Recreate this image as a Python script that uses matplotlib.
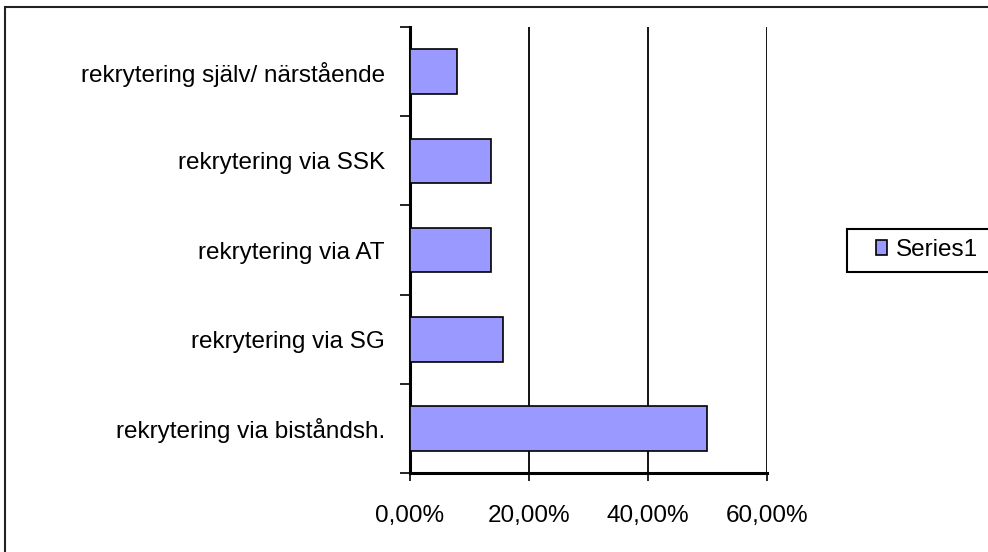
import matplotlib
matplotlib.use("Agg")
import matplotlib.pyplot as plt
from matplotlib.patches import Rectangle, Patch
from matplotlib.ticker import FixedLocator, FuncFormatter

plt.rcParams['font.family'] = ['Liberation Sans', 'DejaVu Sans']

categories = ["rekrytering via biståndsh.", "rekrytering via SG", "rekrytering via AT",
              "rekrytering via SSK", "rekrytering själv/ närstående"]
values = [49.9, 15.6, 13.6, 13.6, 7.85]
series_name = "Series1"
xticks = [0, 20, 40, 60]

W, H = 988, 552
FS = 17.5
fig = plt.figure(figsize=(W / 100, H / 100), dpi=100)

# outer chart frame (extends beyond right/bottom edges)
fig.patches.append(Rectangle((5 / W, -0.1), 1.2, (H - 7) / H + 0.1, transform=fig.transFigure,
                             fill=False, edgecolor='#222222', linewidth=1.5))

ax = fig.add_axes([410 / W, (H - 473) / H, 357 / W, 446 / H])
ypos = list(range(len(categories)))
ax.barh(ypos, values, height=0.5, color='#9999FF', edgecolor='black', linewidth=1.2, zorder=3)
ax.set_xlim(0, 60)
ax.set_ylim(-0.5, len(categories) - 0.5)

ax.set_xticks(xticks)
ax.xaxis.set_major_formatter(FuncFormatter(lambda v, p: f"{v:.2f}%".replace('.', ',')))
ax.grid(axis='x', color='black', linewidth=1.3, zorder=1)
ax.set_yticks(ypos)
ax.set_yticklabels(categories)
ax.tick_params(axis='y', which='major', length=0, pad=18, labelsize=FS)
ax.yaxis.set_minor_locator(FixedLocator([i - 0.5 for i in range(len(categories) + 1)]))
ax.tick_params(axis='y', which='minor', length=7, width=1.2, direction='out')
ax.tick_params(axis='x', which='major', length=6, width=1.2, direction='out', pad=17, labelsize=FS)

for s in ['top', 'right']:
    ax.spines[s].set_visible(False)
for s in ['left', 'bottom']:
    ax.spines[s].set_linewidth(2.2)

# legend
fig.patches.append(Rectangle((847 / W, (H - 272) / H), 0.3, 43 / H, transform=fig.transFigure,
                             fill=True, facecolor='white', edgecolor='black', linewidth=1.5))
leg = fig.legend(handles=[Patch(facecolor='#9999FF', edgecolor='black', linewidth=1.2, label=series_name)],
                 loc='center left', bbox_to_anchor=(876 / W, (H - 250) / H), frameon=False,
                 fontsize=FS, handlelength=0.45, handleheight=0.6, handletextpad=0.35,
                 borderpad=0, borderaxespad=0)

fig.savefig("out.png", dpi=100)
